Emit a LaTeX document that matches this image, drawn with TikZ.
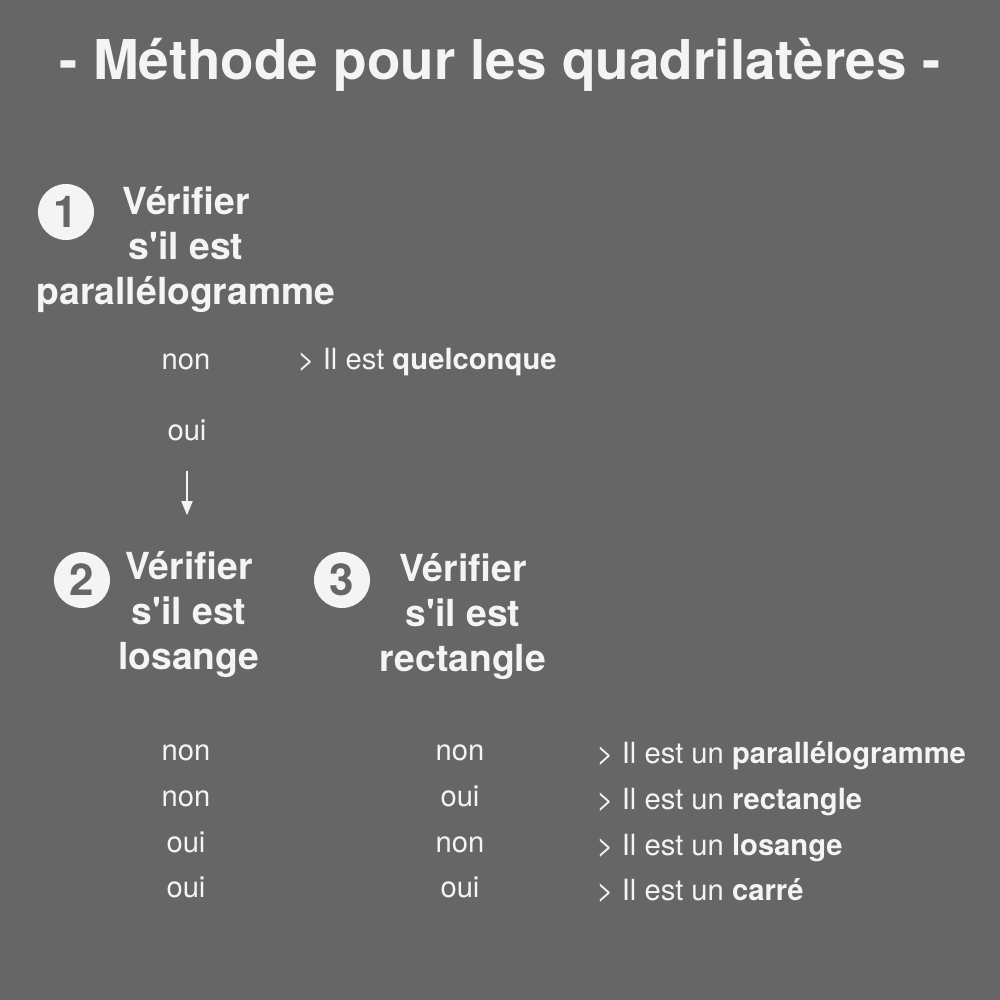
\documentclass[tikz,border=0pt]{standalone}
\usepackage{fontspec}
\setmainfont{TeX Gyre Heros}
\usepackage{xcolor}
\usepackage{tikz}
\usetikzlibrary{arrows.meta, positioning}
\definecolor{bggrey}{HTML}{666666}
\definecolor{textwhite}{HTML}{F4F4F4}
\tikzset{every node/.style={font=\normalfont, text=textwhite, inner sep=0pt}}

\begin{document}
\begin{tikzpicture}[x=0.01cm, y=-0.01cm]
    % Define styles
    \tikzstyle{heading} = [align=center, anchor=base, font=\fontsize{10.6}{12.66}\selectfont\bfseries]
    \tikzstyle{number} = [circle, fill=textwhite, minimum size=0.56cm, text=bggrey, font=\fontsize{12.5}{14}\selectfont\bfseries]
    \tikzstyle{answer} = [anchor=base, font=\fontsize{8.3}{10}\selectfont]
    \tikzstyle{result} = [anchor=base west, font=\fontsize{8.3}{10}\selectfont]
    \tikzstyle{arrow} = [line width=0.5pt, draw=textwhite, -{Triangle[length=0.14cm, width=0.11cm]}]

    % Background
    \fill [bggrey] (0, 0) rectangle (1000, 1000);
    \useasboundingbox (0, 0) rectangle (1000, 1000);

    % Title
    \node (title) [anchor=base, font=\fontsize{15.6}{18}\selectfont\bfseries] at (500, 79) {- Méthode pour les quadrilatères -};

    % Step 1: parallelogram
    \node (num1) [number] at (66, 212) {1};
    \node (verif1) [heading] at (186, 304) {Vérifier\\s\textquotesingle il est\\parallélogramme};
    \node (non1) [answer] at (186, 369) {non};
    \node (quelconque) [result] at (297, 369) {> Il est \textbf{quelconque}};
    \node (oui1) [answer] at (187, 440) {oui};

    % Step 2 and 3
    \node (num2) [number] at (82, 580) {2};
    \node (verif2) [heading] at (189, 669) {Vérifier\\s\textquotesingle il est\\losange};
    \node (num3) [number] at (342, 580) {3};
    \node (verif3) [heading] at (463, 671) {Vérifier\\s\textquotesingle il est\\rectangle};

    % Arrow from oui to step 2
    \draw [arrow, shorten <=0.3cm, shorten >=0.36cm] (oui1.south) -- (oui1.south |- verif2.north);

    % Table: losange / rectangle / result
    \node (losA) [answer] at (186, 760) {non};
    \node (recA) [answer] at (460, 760) {non};
    \node (resA) [result] at (596, 763) {> Il est un \textbf{parallélogramme}};
    \node (losB) [answer] at (186, 806) {non};
    \node (recB) [answer] at (460, 806) {oui};
    \node (resB) [result] at (596, 809) {> Il est un \textbf{rectangle}};
    \node (losC) [answer] at (186, 852) {oui};
    \node (recC) [answer] at (460, 852) {non};
    \node (resC) [result] at (596, 855) {> Il est un \textbf{losange}};
    \node (losD) [answer] at (186, 897) {oui};
    \node (recD) [answer] at (460, 897) {oui};
    \node (resD) [result] at (596, 900) {> Il est un \textbf{carré}};
\end{tikzpicture}
\end{document}
